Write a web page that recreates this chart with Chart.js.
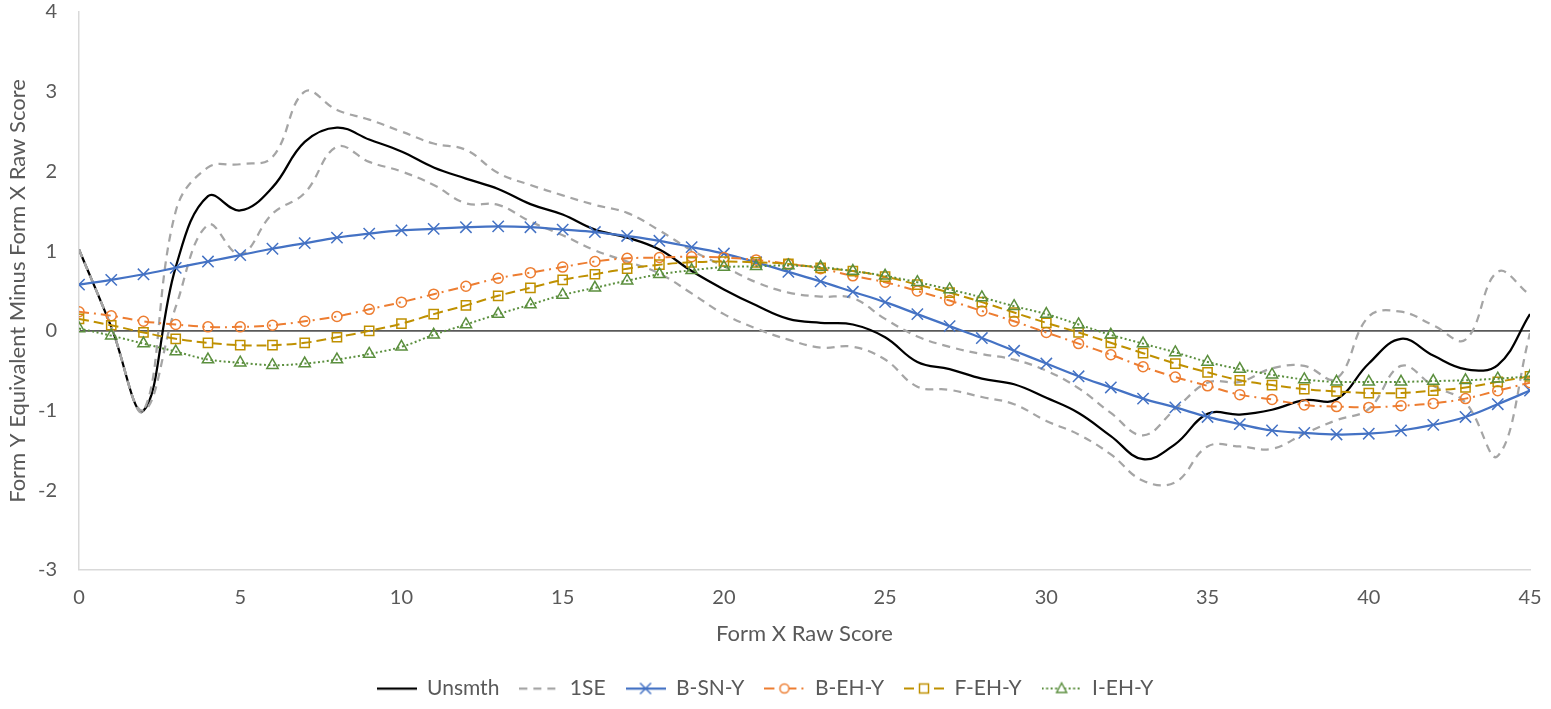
<!DOCTYPE html>
<html>
<head>
<meta charset="utf-8">
<script src="https://cdn.jsdelivr.net/npm/chart.js@4.4.1/dist/chart.umd.min.js"></script>
<style>
  html, body { margin: 0; padding: 0; background: #ffffff; }
  #wrap { width: 1551px; height: 709px; }
</style>
</head>
<body>
<div id="wrap"><canvas id="chart" width="1551" height="709"></canvas></div>
<script>
// Form X raw scores 0..45
const scores = [0,1,2,3,4,5,6,7,8,9,10,11,12,13,14,15,16,17,18,19,20,21,22,23,24,25,26,27,28,29,30,31,32,33,34,35,36,37,38,39,40,41,42,43,44,45];

// Unsmoothed equating differences and +/- 1 standard error band
const unsmth  = [1.02,0.05,-1.00,0.80,1.69,1.51,1.80,2.37,2.55,2.40,2.25,2.05,1.91,1.78,1.59,1.46,1.27,1.17,1.02,0.75,0.52,0.32,0.15,0.10,0.08,-0.08,-0.39,-0.48,-0.60,-0.67,-0.84,-1.03,-1.32,-1.61,-1.42,-1.04,-1.05,-0.99,-0.87,-0.86,-0.41,-0.10,-0.31,-0.48,-0.43,0.21];
const seUpper = [1.02,0.05,-1.00,1.50,2.05,2.09,2.18,3.00,2.77,2.65,2.50,2.35,2.27,1.98,1.83,1.70,1.58,1.48,1.26,1.01,0.81,0.61,0.48,0.43,0.41,0.15,-0.07,-0.20,-0.29,-0.36,-0.50,-0.72,-1.03,-1.31,-0.98,-0.65,-0.64,-0.47,-0.44,-0.60,0.18,0.24,0.07,-0.11,0.74,0.45];
const seLower = [1.02,0.05,-1.00,0.30,1.33,0.96,1.47,1.73,2.31,2.12,2.00,1.83,1.60,1.58,1.37,1.20,1.01,0.87,0.72,0.47,0.21,0.03,-0.11,-0.21,-0.20,-0.36,-0.70,-0.74,-0.83,-0.92,-1.13,-1.30,-1.55,-1.88,-1.90,-1.45,-1.45,-1.48,-1.29,-1.12,-0.98,-0.44,-0.69,-0.90,-1.57,-0.03];

// Smoothed equating differences
const bSnY = [0.58,0.64,0.71,0.79,0.87,0.95,1.03,1.10,1.17,1.22,1.26,1.28,1.30,1.31,1.30,1.27,1.24,1.19,1.13,1.05,0.97,0.86,0.74,0.62,0.49,0.36,0.21,0.06,-0.09,-0.25,-0.41,-0.57,-0.71,-0.85,-0.96,-1.08,-1.17,-1.25,-1.28,-1.30,-1.29,-1.25,-1.18,-1.08,-0.92,-0.75];
const bEhY = [0.24,0.19,0.12,0.08,0.05,0.05,0.07,0.12,0.18,0.27,0.36,0.46,0.56,0.66,0.73,0.80,0.87,0.91,0.92,0.93,0.92,0.89,0.84,0.78,0.69,0.61,0.50,0.38,0.25,0.12,-0.02,-0.16,-0.30,-0.45,-0.58,-0.69,-0.80,-0.86,-0.93,-0.95,-0.96,-0.94,-0.91,-0.85,-0.75,-0.65];
const fEhY = [0.15,0.07,-0.02,-0.10,-0.15,-0.18,-0.18,-0.15,-0.08,0.00,0.09,0.21,0.32,0.44,0.54,0.64,0.71,0.78,0.83,0.86,0.87,0.86,0.84,0.79,0.75,0.68,0.58,0.48,0.36,0.23,0.10,-0.02,-0.15,-0.28,-0.41,-0.52,-0.62,-0.68,-0.73,-0.76,-0.78,-0.78,-0.75,-0.71,-0.64,-0.57];
const iEhY = [0.03,-0.06,-0.16,-0.26,-0.36,-0.40,-0.43,-0.41,-0.36,-0.29,-0.20,-0.05,0.08,0.21,0.33,0.45,0.54,0.63,0.71,0.76,0.80,0.81,0.82,0.80,0.75,0.69,0.61,0.52,0.42,0.31,0.21,0.08,-0.05,-0.16,-0.27,-0.39,-0.48,-0.55,-0.61,-0.64,-0.64,-0.64,-0.63,-0.62,-0.60,-0.57];

// Axis ticks
const xTicks = [0,5,10,15,20,25,30,35,40,45];
const yTicks = [-3,-2,-1,0,1,2,3,4];

const FONT = 'Lato, "Open Sans", sans-serif';
const TEXT = '#595959';

const pts = arr => scores.map((s, i) => ({ x: s, y: arr[i] }));

// Series styling
const styles = [
  { label: 'Unsmth', color: '#000000', width: 2.25, dash: [],            marker: null },
  { label: '1SE',    color: '#A5A5A5', width: 2.25, dash: [8, 6],        marker: null },
  { label: 'B-SN-Y', color: '#4472C4', width: 2.25, dash: [],            marker: 'crossRot' },
  { label: 'B-EH-Y', color: '#ED7D31', width: 2,    dash: [10, 5, 2, 5], marker: 'circle' },
  { label: 'F-EH-Y', color: '#BF9000', width: 2,    dash: [10, 5],       marker: 'rect' },
  { label: 'I-EH-Y', color: '#5B8F3E', width: 2,    dash: [2, 2.5],      marker: 'triangle' }
];
const markerRadius = { crossRot: 8, circle: 5, rect: 6.5, triangle: 6.5 };

// Small canvas used as the legend swatch: line segment with its marker
function swatch(st) {
  const c = document.createElement('canvas');
  c.width = 40; c.height = 16;
  const g = c.getContext('2d');
  g.strokeStyle = st.color;
  g.lineWidth = st.width;
  g.setLineDash(st.dash);
  g.beginPath(); g.moveTo(0, 8); g.lineTo(40, 8); g.stroke();
  g.setLineDash([]);
  g.lineWidth = 1.5;
  const cx = 20, cy = 8;
  if (st.marker === 'circle') {
    g.fillStyle = '#fff';
    g.beginPath(); g.arc(cx, cy, 4.5, 0, Math.PI * 2); g.fill(); g.stroke();
  } else if (st.marker === 'rect') {
    g.fillStyle = '#fff';
    g.fillRect(cx - 4.5, cy - 4.5, 9, 9); g.strokeRect(cx - 4.5, cy - 4.5, 9, 9);
  } else if (st.marker === 'triangle') {
    g.fillStyle = '#fff';
    g.beginPath(); g.moveTo(cx, cy - 5.5); g.lineTo(cx + 5, cy + 4); g.lineTo(cx - 5, cy + 4); g.closePath(); g.fill(); g.stroke();
  } else if (st.marker === 'crossRot') {
    g.beginPath();
    g.moveTo(cx - 5.5, cy - 5.5); g.lineTo(cx + 5.5, cy + 5.5);
    g.moveTo(cx + 5.5, cy - 5.5); g.lineTo(cx - 5.5, cy + 5.5);
    g.stroke();
  }
  return c;
}

function makeDataset(st, values, order, inLegend) {
  return {
    label: st.label,
    data: pts(values),
    borderColor: st.color,
    borderWidth: st.width,
    borderDash: st.dash,
    tension: 0.4,
    fill: false,
    pointStyle: st.marker || 'circle',
    pointRadius: st.marker ? markerRadius[st.marker] : 0,
    pointHoverRadius: st.marker ? markerRadius[st.marker] : 0,
    pointBorderColor: st.color,
    pointBackgroundColor: 'rgba(0,0,0,0)',
    pointBorderWidth: 1.5,
    order: order,
    inLegend: inLegend,
    swatch: swatch(st)
  };
}

// Later series are drawn above earlier ones
const datasets = [
  makeDataset(styles[0], unsmth, 0, true),
  makeDataset(styles[1], seUpper, -1, true),
  makeDataset(styles[1], seLower, -2, false),
  makeDataset(styles[2], bSnY, -3, true),
  makeDataset(styles[3], bEhY, -4, true),
  makeDataset(styles[4], fEhY, -5, true),
  makeDataset(styles[5], iEhY, -6, true)
];

new Chart(document.getElementById('chart'), {
  type: 'line',
  data: { datasets },
  options: {
    responsive: false,
    animation: false,
    devicePixelRatio: 1,
    layout: { padding: { left: 0, right: 21, top: 0, bottom: 0 } },
    plugins: {
      tooltip: { enabled: false },
      legend: {
        position: 'bottom',
        labels: {
          usePointStyle: true,
          pointStyleWidth: 40,
          boxWidth: 40,
          boxHeight: 14,
          padding: 20,
          color: TEXT,
          font: { family: FONT, size: 21 },
          generateLabels(chart) {
            return chart.data.datasets
              .map((ds, i) => ({
                text: ds.label,
                pointStyle: ds.swatch,
                datasetIndex: i,
                hidden: false,
                fontColor: TEXT,
                lineWidth: 0,
                strokeStyle: 'rgba(0,0,0,0)',
                fillStyle: 'rgba(0,0,0,0)'
              }))
              .filter(item => chart.data.datasets[item.datasetIndex].inLegend);
          }
        },
        onClick: () => {}
      }
    },
    scales: {
      x: {
        type: 'linear',
        min: 0,
        max: 45,
        afterBuildTicks: axis => { axis.ticks = xTicks.map(v => ({ value: v })); },
        afterFit: axis => { axis.height = 88; axis.paddingLeft = 0; axis.paddingRight = 0; },
        grid: { display: false, drawTicks: false },
        border: { display: true, color: '#D9D9D9', width: 1.5 },
        ticks: { color: TEXT, font: { family: FONT, size: 20 }, padding: 16, maxRotation: 0 },
        title: {
          display: true,
          text: 'Form X Raw Score',
          color: TEXT,
          font: { family: FONT, size: 22 },
          padding: { top: 4, bottom: 11 }
        }
      },
      y: {
        type: 'linear',
        min: -3,
        max: 4,
        afterBuildTicks: axis => { axis.ticks = yTicks.map(v => ({ value: v })); },
        afterFit: axis => { axis.width = 79; axis.paddingTop = 12; axis.paddingBottom = 12; },
        grid: {
          drawTicks: false,
          lineWidth: ctx => (ctx.tick && ctx.tick.value === 0 ? 1.75 : 0),
          color: ctx => (ctx.tick && ctx.tick.value === 0 ? '#595959' : 'rgba(0,0,0,0)')
        },
        border: { display: true, color: '#D9D9D9', width: 1.5 },
        ticks: { color: TEXT, font: { family: FONT, size: 20 }, padding: 22 },
        title: {
          display: true,
          text: 'Form Y Equivalent Minus Form X Raw Score',
          color: TEXT,
          font: { family: FONT, size: 22 },
          padding: { top: 5, bottom: 2 }
        }
      }
    }
  }
});
</script>
</body>
</html>
